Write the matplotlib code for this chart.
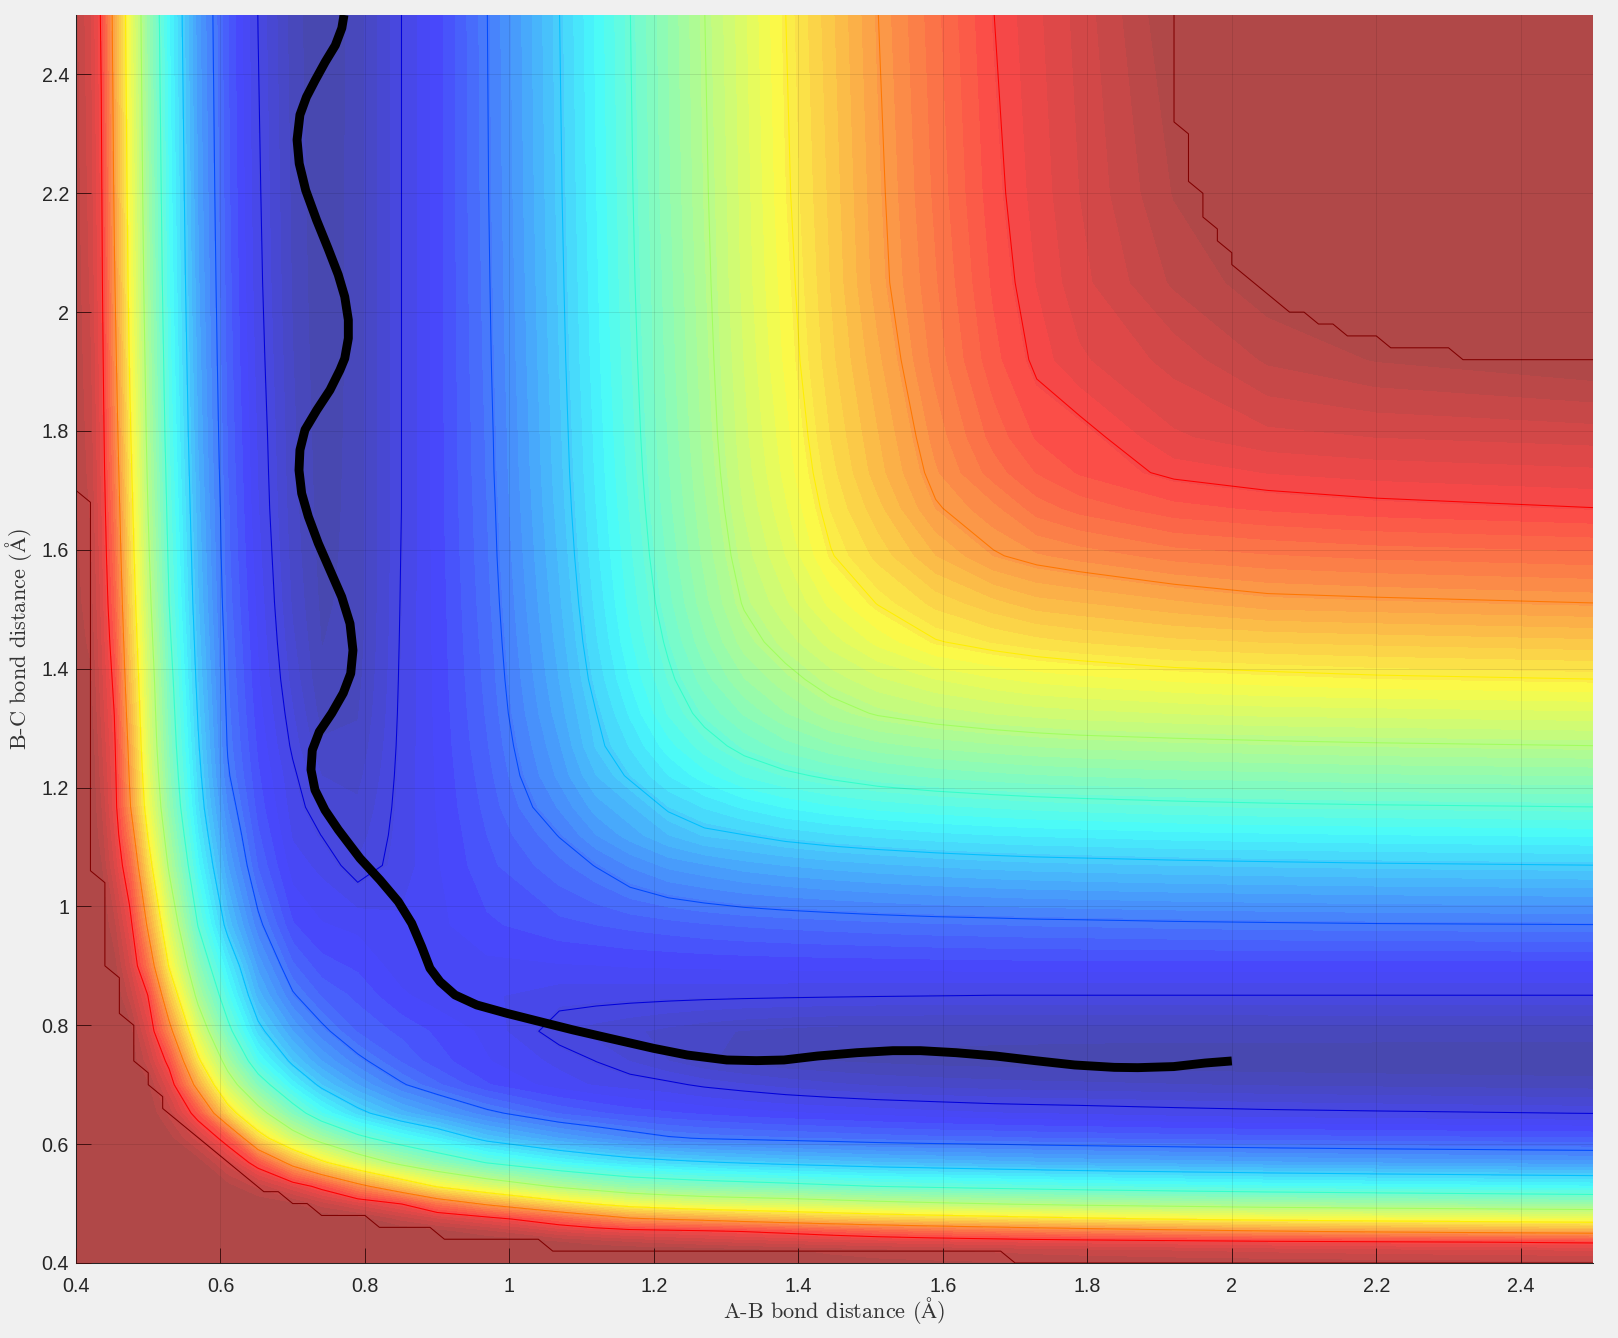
import numpy as np
import matplotlib
matplotlib.use("Agg")
import matplotlib.pyplot as plt
from matplotlib.colors import LinearSegmentedColormap

plt.rcParams['mathtext.fontset'] = 'cm'

# Grid positions of the surface table (Angstrom), same for both bond distances
knots = [0.385, 0.42, 0.435, 0.453, 0.474, 0.499, 0.529, 0.569, 0.61, 0.652, 0.70, 0.74, 0.79, 0.85,
         0.90, 0.969, 1.069, 1.12, 1.167, 1.22, 1.27, 1.325, 1.382, 1.445, 1.51, 1.59, 1.67,
         1.73, 1.79, 1.92, 2.05, 2.2, 2.5]

# Surface height (colour scale 0..1): upper triangle, each row starts on the diagonal
surface_rows = [
    [1.0]*33,
    [1.0]*15 + [1, 1, 1, 1, .998, .992, .986, .98, .974, .969, .964, .96, .957, .951, .946, .941, .933],
    [1.0]*14 + [.984, .975, .966, .958, .951, .944, .938, .932, .926, .92, .915, .911, .908, .902, .896, .891, .881],
    [1.0]*11 + [.99, .97] + [.93, .916, .905, .90, .894, .885, .875, .861, .847, .833, .821, .812, .804, .789, .776, .765, .749],
    [1.0]*8 + [.993, .96, .934, .905] + [.847, .812, .78, .767, .756, .742, .728, .715, .703, .691, .681, .673, .666, .653, .643, .635, .622],
    [1.0]*5 + [.987, .957, .925, .888, .824, .764] + [.687, .656, .63, .613, .60, .592, .585, .574, .563, .552, .543, .537, .531, .522, .513, .506, .494],
    [1.0, 1.0, .99, .96, .915, .87, .793, .712, .65, .595] + [.531, .506, .485, .472, .462, .454, .446, .435, .425, .417, .41, .405, .40, .392, .385, .379, .368],
    [.993, .94, .862, .745, .668, .594, .522, .476, .423] + [.371, .351, .335, .324, .315, .307, .299, .292, .285, .279, .273, .269, .265, .259, .253, .248, .24],
    [.86, .69, .578, .512, .443, .388, .352, .295] + [.25, .232, .216, .20, .193, .189, .185, .181, .176, .172, .17, .167, .165, .161, .158, .155, .151],
    [.57, .46, .385, .325, .275, .245, .205] + [.165, .153, .143, .136, .13, .124, .119, .115, .111, .106, .101, .099, .097, .092, .088, .085, .08],
    [.36, .30, .25, .20, .17, .135] + [.108, .098, .092, .086, .076, .068, .06, .053, .047, .043, .04, .038, .037, .034, .031, .029, .025],
    [.25, .205, .165, .14, .118] + [.095, .08, .066, .05, .036, .027, .02, .016, .013, .010, .008, .007, .006, .004, .003, .002, 0.0],
    [.165, .145, .13, .112] + [.068, .06, .053, .045, .038, .032, .028, .025, .024, .024, .024, .024, .024, .024, .025, .025, .025],
    [.12, .108, .103] + [.09, .089, .088, .087, .086, .085, .084, .083, .082, .081, .08, .08, .08, .08, .08, .08, .08],
    [.11, .112] + [.115, .116, .118, .119, .12, .121, .122, .1225, .123, .124, .125, .125, .125, .125, .125, .125, .125],
    [.13] + [.145, .15, .155, .16, .165, .169, .172, .175, .178, .181, .183, .185, .186, .189, .191, .193, .195],
    [.178, .197, .219, .238, .248, .259, .267, .274, .28, .286, .291, .294, .296, .30, .303, .306, .31],
    [.233, .258, .283, .302, .31, .322, .331, .338, .345, .35, .353, .355, .36, .363, .366, .37],
    [.28, .316, .335, .353, .368, .38, .389, .396, .402, .406, .409, .414, .418, .421, .425],
    [.35, .376, .402, .418, .432, .444, .454, .461, .465, .468, .473, .476, .48, .484],
    [.41, .437, .459, .479, .494, .505, .513, .518, .522, .527, .531, .535, .54],
    [.469, .499, .525, .544, .558, .568, .574, .578, .584, .589, .591, .596],
    [.528, .557, .58, .60, .614, .622, .627, .637, .643, .649, .655],
    [.591, .622, .653, .668, .677, .684, .695, .701, .705, .712],
    [.657, .689, .711, .726, .732, .746, .759, .763, .77],
    [.733, .767, .781, .79, .807, .815, .821, .828],
    [.795, .825, .84, .861, .87, .877, .885],
    [.851, .869, .891, .901, .907, .913],
    [.875, .914, .928, .934, .94],
    [.94, .97, .985, 1.0],
    [.995, 1.0, 1.0],
    [1.0, 1.0],
    [1.0],
]

contour_levels = [.0805, .1955, .3105, .4255, .5405, .6555, .7705, .8855]

# Stepped outline of the saturated plateau
cap_upper_x = [1.92, 1.92, 1.94, 1.94, 1.96, 1.96, 1.98, 1.98, 2.00, 2.00, 2.08, 2.10, 2.12, 2.14, 2.16, 2.20, 2.22, 2.30, 2.32, 2.50]
cap_upper_y = [2.50, 2.32, 2.30, 2.22, 2.20, 2.16, 2.14, 2.12, 2.10, 2.08, 2.00, 2.00, 1.98, 1.98, 1.96, 1.96, 1.94, 1.94, 1.92, 1.92]
cap_lower_x = [0.40, 0.42, 0.42, 0.44, 0.44, 0.46, 0.46, 0.48, 0.48, 0.50, 0.50, 0.52, 0.52, 0.66, 0.68, 0.70, 0.72, 0.74, 0.80, 0.82, 0.89, 0.91, 1.04, 1.06, 1.68, 1.70, 2.50]
cap_lower_y = [1.70, 1.68, 1.06, 1.04, 0.90, 0.88, 0.82, 0.80, 0.74, 0.72, 0.70, 0.68, 0.66, 0.52, 0.52, 0.50, 0.50, 0.48, 0.48, 0.46, 0.46, 0.44, 0.44, 0.42, 0.42, 0.40, 0.40]

# Trajectory
traj_ab = [2.0, 1.9632, 1.9194, 1.87, 1.8373, 1.7825, 1.7278, 1.673, 1.6182, 1.569, 1.5307, 1.4814, 1.4267, 1.380,
           1.3419, 1.3009, 1.2461, 1.1996, 1.1346, 1.0884, 1.0423, .9962, .9547, .9247, .9039, .89, .8785, .8647,
           .8462, .8208, .7931, .7631, .7447, .7308, .7253, .7271, .7368, .754, .77, .7803, .7834, .7793, .7678,
           .7516, .7354, .7216, .7124, .7087, .710, .717, .7332, .7516, .7654, .772, .777, .777, .772, .763, .749,
           .733, .718, .709, .706, .71, .719, .731, .745, .759, .768, .771]
traj_bc = [.74, .7365, .7305, .7287, .7292, .7332, .7405, .7483, .7539, .7573, .7573, .7539, .7483, .7416,
           .7405, .7416, .75, .7612, .7792, .7921, .8061, .8202, .8342, .851, .8734, .8959, .9323, .9716,
           1.008, 1.0445, 1.081, 1.129, 1.162, 1.196, 1.23, 1.263, 1.294, 1.325, 1.359, 1.392, 1.431, 1.476, 1.521,
           1.566, 1.611, 1.656, 1.695, 1.734, 1.768, 1.802, 1.835, 1.869, 1.9026, 1.922, 1.956, 1.987, 2.026, 2.063, 2.107,
           2.155, 2.205, 2.25, 2.29, 2.332, 2.362, 2.39, 2.421, 2.449, 2.478, 2.5]

tick_values = [0.4, 0.6, 0.8, 1.0, 1.2, 1.4, 1.6, 1.8, 2.0, 2.2, 2.4]
tick_labels = ['0.4', '0.6', '0.8', '1', '1.2', '1.4', '1.6', '1.8', '2', '2.2', '2.4']

W, H = 1618, 1338
fig = plt.figure(figsize=(W/100, H/100), dpi=100, facecolor='#f0f0f0')
L, R, T, B = 76, 1593, 15, 1263
ax = fig.add_axes([L/W, 1-B/H, (R-L)/W, (B-T)/H], facecolor='#f0f0f0')

n = len(knots)
Z = np.zeros((n, n))
for i, row in enumerate(surface_rows):
    Z[i, i:] = row
    Z[i:, i] = row

cmap = LinearSegmentedColormap('jetlike', {
    'red':   [(0, 0, 0), (.37, 0, 0), (.64, 1, 1), (.885, 1, 1), (1, .55, .55)],
    'green': [(0, 0, 0), (.125, 0, 0), (.37, 1, 1), (.64, 1, 1), (.885, 0, 0), (1, 0, 0)],
    'blue':  [(0, .55, .55), (.115, 1, 1), (.37, 1, 1), (.64, 0, 0), (1, 0, 0)],
}, N=512)
band_edges = np.linspace(0, 1.0005, 61)
band_mid = (band_edges[:-1] + band_edges[1:]) / 2
alpha = 0.7
paper = 240 / 255
band_colors = [tuple(alpha*np.array(cmap(float(v))[:3]) + (1-alpha)*paper) for v in band_mid]
ax.contourf(knots, knots, Z, levels=band_edges, colors=band_colors, antialiased=False, zorder=1)
ax.contour(knots, knots, Z, levels=contour_levels, cmap=cmap, vmin=0, vmax=1, linewidths=0.75, zorder=2)
ax.plot(cap_upper_x, cap_upper_y, color='#800000', lw=0.75, zorder=2)
ax.plot(cap_lower_x, cap_lower_y, color='#800000', lw=0.75, zorder=2)

ax.grid(True, color='black', alpha=0.09, lw=0.75, zorder=3)
ax.set_axisbelow(False)
ax.plot(traj_ab, traj_bc, color='black', lw=6.4, solid_joinstyle='round', solid_capstyle='butt', zorder=4)

ax.set_xlim(0.4, 2.5)
ax.set_ylim(0.4, 2.5)
ax.set_xticks(tick_values, tick_labels)
ax.set_yticks(tick_values, tick_labels)
ax.tick_params(direction='in', length=10.8, width=0.7, color='#401010', labelcolor='#262626',
               labelsize=14.2, top=False, right=False)
ax.tick_params(axis='x', pad=10)
ax.tick_params(axis='y', pad=5)
for lab in ax.get_xticklabels() + ax.get_yticklabels():
    lab.set_family('Liberation Sans')
for s in ['top', 'right']:
    ax.spines[s].set_visible(False)
for s in ['left', 'bottom']:
    ax.spines[s].set_color('#262626')
    ax.spines[s].set_linewidth(0.75)

fig.text((L+R)/2/W, 1-1310/H, 'A-B bond distance ($\\mathrm{\\AA}$)', family='cmr10', fontsize=16,
         color='#333333', ha='center', va='center')
fig.text(19/W, 1-(T+B)/2/H, 'B-C bond distance ($\\mathrm{\\AA}$)', family='cmr10', fontsize=16,
         color='#333333', ha='center', va='center', rotation=90)

fig.savefig('out.png', dpi=100, facecolor=fig.get_facecolor())
